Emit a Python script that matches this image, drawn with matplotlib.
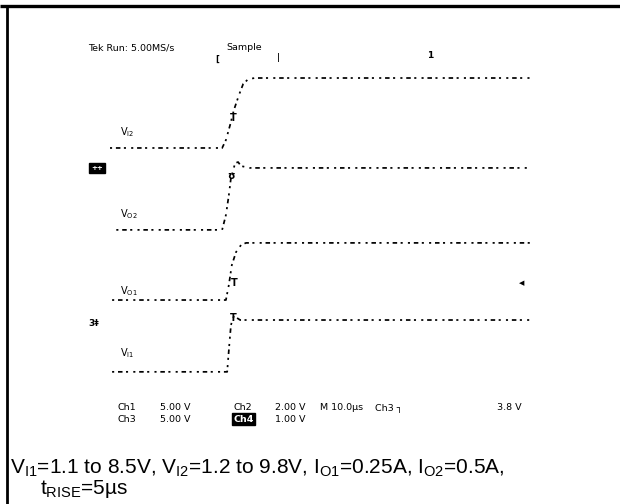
import matplotlib

matplotlib.use("Agg")

import matplotlib.pyplot as plt

# scope screen: 10 us/div, 10 x 8 divisions
time_span_us = 100.0
n_div_y = 8

# channel settings: volts per division and ground position (div from centre)
vi2_scale, vi2_ground = 5.0, 1.57   # Ch1
vo2_scale, vo2_ground = 2.0, -0.14  # Ch2
vo1_scale, vo1_ground = 1.0, -1.81  # Ch4
vi1_scale, vi1_ground = 5.0, -3.74  # Ch3

# traces: time (us) and volts
vi2_t = [0.0, 26.7, 27.6, 28.6, 29.5, 30.7, 31.7, 32.9, 34.5, 100.0]
vi2_v = [1.2, 1.2, 2.15, 3.94, 5.72, 7.5, 8.81, 9.4, 9.53, 9.53]

vo2_t = [1.5, 26.7, 27.6, 28.3, 28.8, 29.8, 30.5, 31.2, 33.3, 100.0]
vo2_v = [0.0, 0.0, 0.71, 1.66, 2.47, 3.18, 3.23, 3.04, 2.95, 2.95]

vo1_t = [0.5, 27.6, 28.3, 29.0, 30.0, 31.2, 32.4, 100.0]
vo1_v = [0.0, 0.0, 0.36, 0.83, 1.14, 1.31, 1.36, 1.36]

vi1_t = [0.5, 27.9, 28.3, 28.8, 29.5, 31.0, 100.0]
vi1_v = [1.1, 1.1, 3.7, 6.68, 7.75, 7.27, 7.27]

trace_labels = [r"V$_{\mathregular{I2}}$", r"V$_{\mathregular{O2}}$",
                r"V$_{\mathregular{O1}}$", r"V$_{\mathregular{I1}}$"]

readout_top = ["Ch1", "5.00 V", "Ch2", "2.00 V", "M 10.0\u00b5s", "Ch3 \u2510", "3.8 V"]
readout_top_x = [117, 160, 233, 275, 320, 375, 497]
readout_bot = ["Ch3", "5.00 V", "Ch4", "1.00 V"]
readout_bot_x = [117, 160, 233, 275]

caption_1 = (r"$\mathregular{V_{I1}}$=1.1 to 8.5V, $\mathregular{V_{I2}}$=1.2 to 9.8V, "
             r"$\mathregular{I_{O1}}$=0.25A, $\mathregular{I_{O2}}$=0.5A,")
caption_2 = r"$\mathregular{t_{RISE}}$=5µs"

plt.rcParams["mathtext.fontset"] = "custom"
plt.rcParams["mathtext.rm"] = "Liberation Sans"

W, H = 620, 504
fig = plt.figure(figsize=(W / 100, H / 100), dpi=100)
bg = fig.add_axes([0, 0, 1, 1])
bg.set_xlim(0, W)
bg.set_ylim(H, 0)
bg.axis("off")

# page frame (top rule and left rule)
bg.plot([0, W], [6, 6], color="black", lw=2.4, solid_capstyle="butt")
bg.plot([6.5, 6.5], [6, H], color="black", lw=2.0, solid_capstyle="butt")

# scope screen in its own axes
left, right, top, bottom = 110, 530, 56, 392
scope = fig.add_axes([left / W, 1 - bottom / H, (right - left) / W, (bottom - top) / H])
scope.set_xlim(0, time_span_us)
scope.set_ylim(-n_div_y / 2, n_div_y / 2)
scope.axis("off")

dash = (0, (1.2, 2.2, 2.6, 2.0, 1.2, 3.0))
for t, v, scale, gnd in [
    (vi2_t, vi2_v, vi2_scale, vi2_ground),
    (vo2_t, vo2_v, vo2_scale, vo2_ground),
    (vo1_t, vo1_v, vo1_scale, vo1_ground),
    (vi1_t, vi1_v, vi1_scale, vi1_ground),
]:
    y = [gnd + val / scale for val in v]
    scope.plot(t, y, color="black", lw=1.25, linestyle=dash, dash_capstyle="butt")

mono = dict(family="DejaVu Sans", fontsize=6.8, color="black")

bg.text(88, 48, "Tek Run: 5.00MS/s", va="center", ha="left", **mono)
bg.text(226, 48, "Sample", va="center", ha="left", **mono)
bg.text(217, 59, "[", va="center", ha="center", family="DejaVu Sans", fontsize=6, fontweight="bold")
bg.text(279, 58, "|", va="center", ha="center", family="DejaVu Sans", fontsize=6, fontweight="bold")
bg.text(430, 56, "1", va="center", ha="center", family="DejaVu Sans", fontsize=6.5, fontweight="bold")

# trace labels
lab = dict(family="DejaVu Sans", fontsize=7, va="center", ha="left", color="black")
for txt, y in zip(trace_labels, [132, 214, 291, 353]):
    bg.text(120, y, txt, **lab)

# channel markers on the traces
mk = dict(family="DejaVu Sans", fontsize=7, fontweight="bold", va="center", ha="center")
bg.text(233, 118, "T", **mk)
bg.text(231, 176, "\u028a", **mk)
bg.text(234, 283, "T", **mk)
bg.text(233, 318, "T", **mk)
bg.text(522, 283, "\u25c0", family="DejaVu Sans", fontsize=5, va="center", ha="center")

# ground / reference markers at left edge
bg.text(97, 168, "++", family="DejaVu Sans", fontsize=5, fontweight="bold", color="white",
        va="center", ha="center", bbox=dict(boxstyle="square,pad=0.25", fc="black", ec="black"))
bg.text(94, 323, "3\u2021", family="DejaVu Sans", fontsize=6.5, fontweight="bold", va="center", ha="center")

# readout lines
for txt, x in zip(readout_top, readout_top_x):
    bg.text(x, 408, txt, va="center", ha="left", **mono)
for txt, x in zip(readout_bot, readout_bot_x):
    if txt == "Ch4":
        bg.text(x, 419, txt, va="center", ha="left", family="DejaVu Sans", fontsize=6.8,
                color="white", fontweight="bold",
                bbox=dict(boxstyle="square,pad=0.15", fc="black", ec="black"))
    else:
        bg.text(x, 419, txt, va="center", ha="left", **mono)

cap = dict(family="Liberation Sans", fontsize=15, va="baseline", ha="left", color="black")
bg.text(10, 474, caption_1, **cap)
bg.text(40, 494, caption_2, **cap)

fig.savefig("out.png", dpi=100)
plt.close(fig)
